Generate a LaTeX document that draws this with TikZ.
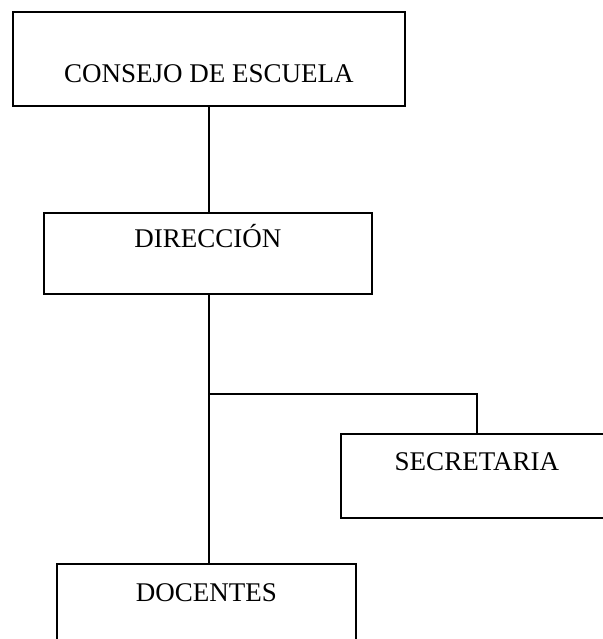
\documentclass[tikz,border=0pt]{standalone}
\usepackage{fontspec}
\setmainfont{Liberation Serif}
\begin{document}
\begin{tikzpicture}[x=1pt,y=-1pt,
  orgbox/.style={draw, line width=1.8pt, rectangle, inner xsep=0pt, inner ysep=0pt,
    font=\fontsize{27}{31}\selectfont, anchor=north west},
  conn/.style={line width=1.8pt}]
\useasboundingbox (0,0) rectangle (602,639);
\fill[white] (0,0) rectangle (602,639);
\node[orgbox, minimum width=392pt, text height=71pt, text depth=23pt] (c) at (12,11) {CONSEJO DE ESCUELA};
\node[orgbox, minimum width=328pt, text height=35pt, text depth=46pt] (d) at (43,212) {DIRECCIÓN};
\node[orgbox, minimum width=272pt, text height=37pt, text depth=47pt] (s) at (340,433) {SECRETARIA};
\node[orgbox, minimum width=299pt, text height=38pt, text depth=46pt] (t) at (56,563) {DOCENTES};
\coordinate (j) at (209,394);
\draw[conn] (c.south -| j) -- (d.north -| j);
\draw[conn] (d.south -| j) -- (t.north -| j);
\draw[conn] (j) -| (s.north);
\end{tikzpicture}
\end{document}
